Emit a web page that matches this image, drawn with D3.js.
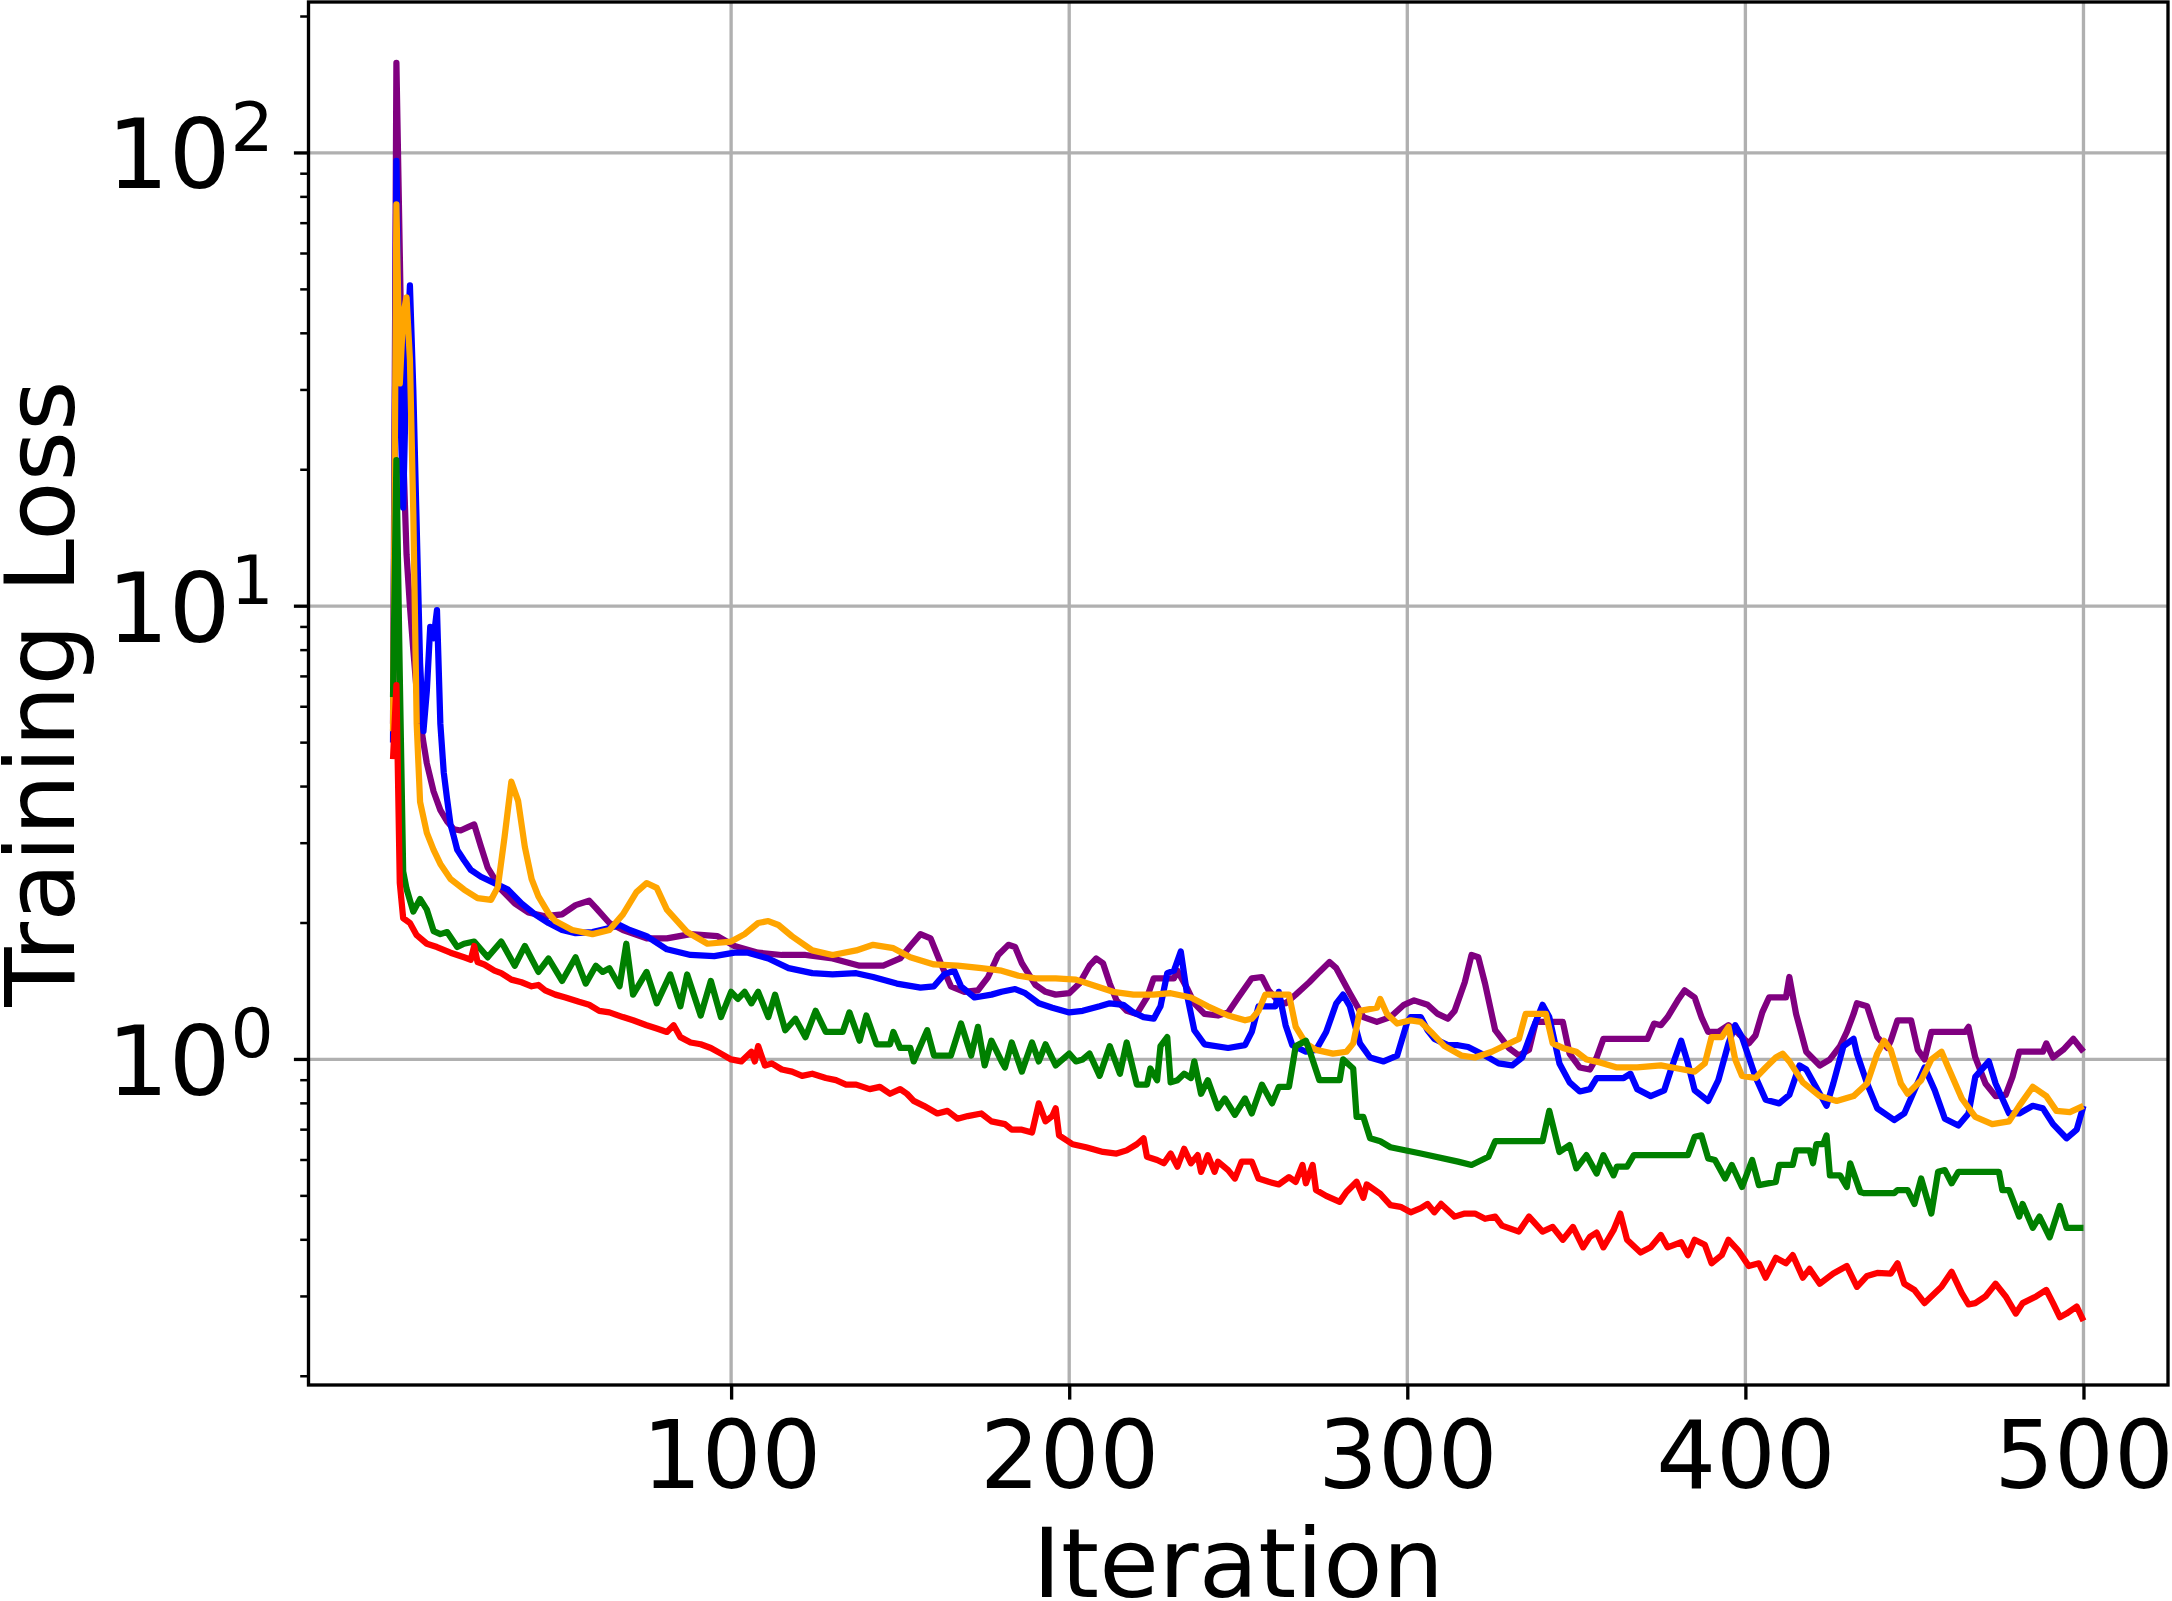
<!DOCTYPE html>
<html>
<head>
<meta charset="utf-8">
<script src="https://cdn.jsdelivr.net/npm/d3@7"></script>
<style>
  body { margin: 0; background: #fff; }
  text { font-family: "DejaVu Sans", sans-serif; fill: #000; }
</style>
</head>
<body>
<script>
// x ticks (iterations) and y ticks (log10 exponents)
var iterTicks = [100, 200, 300, 400, 500];
var yMajor = [1, 10, 100];
var yExponents = ["0", "1", "2"];
var yMinor = [0.2, 0.3, 0.4, 0.5, 0.6, 0.7, 0.8, 0.9,
              2, 3, 4, 5, 6, 7, 8, 9,
              20, 30, 40, 50, 60, 70, 80, 90, 200];

// series, [iteration, loss]
var purple = [[0,5.5],[1,158],[2,60],[3,22],[4,13],[5,10],[6,8],[7,6.5],[8,5.6],[9,5.0],[10,4.5],[12,3.9],[14,3.55],[16,3.35],[18,3.22],[20,3.2],[22,3.25],[24,3.3],[26,2.95],[28,2.65],[32,2.37],[36,2.21],[40,2.11],[45,2.07],[50,2.09],[54,2.19],[58,2.24],[60,2.16],[64,2.0],[68,1.93],[75,1.85],[81,1.85],[88,1.89],[96,1.87],[101,1.78],[108,1.72],[115,1.7],[122,1.7],[130,1.67],[138,1.61],[145,1.61],[150,1.67],[153,1.78],[156,1.89],[159,1.85],[162,1.63],[165,1.45],[169,1.41],[173,1.42],[176,1.52],[179,1.7],[182,1.79],[184,1.77],[186,1.63],[190,1.46],[193,1.41],[196,1.39],[200,1.4],[203,1.47],[206,1.61],[208,1.67],[210,1.63],[212,1.47],[214,1.35],[217,1.28],[220,1.26],[223,1.37],[225,1.51],[231,1.51],[232,1.57],[235,1.43],[237,1.33],[240,1.26],[244,1.25],[247,1.27],[250,1.37],[254,1.51],[257,1.52],[259,1.42],[262,1.34],[264,1.33],[267,1.39],[271,1.48],[274,1.56],[277,1.64],[279,1.59],[283,1.4],[287,1.24],[291,1.21],[295,1.24],[299,1.32],[302,1.35],[306,1.32],[309,1.26],[312,1.23],[314,1.28],[317,1.48],[319,1.7],[321,1.68],[323,1.47],[326,1.16],[330,1.06],[333,1.02],[336,1.05],[338,1.21],[346,1.21],[348,1.03],[351,0.96],[354,0.95],[356,1.01],[358,1.11],[371,1.11],[373,1.2],[375,1.19],[377,1.24],[380,1.35],[382,1.42],[385,1.37],[387,1.24],[389,1.15],[392,1.15],[395,1.19],[398,1.14],[401,1.085],[403,1.13],[405,1.27],[407,1.37],[412,1.37],[413,1.52],[415,1.26],[418,1.04],[422,0.97],[425,1.0],[428,1.07],[430,1.15],[432,1.26],[433,1.33],[436,1.31],[439,1.12],[442,1.06],[443,1.1],[445,1.22],[449,1.22],[451,1.05],[453,1.0],[455,1.15],[465,1.15],[466,1.18],[468,1.01],[471,0.885],[474,0.83],[477,0.835],[479,0.915],[481,1.04],[488,1.04],[489,1.085],[491,1.01],[494,1.05],[497,1.11],[500,1.04]];

var blue = [[0,5],[1,96],[2,30],[3,16.5],[4,35],[5,51],[6,30],[7,15],[8,7.5],[9,5.3],[10,6.5],[11,9.0],[12,8.5],[13,9.8],[14,5.5],[15,4.3],[16,3.75],[17,3.3],[18,3.1],[19,2.9],[21,2.75],[23,2.62],[26,2.53],[30,2.45],[34,2.37],[38,2.21],[42,2.09],[46,2.0],[50,1.93],[54,1.9],[59,1.91],[64,1.95],[67,1.98],[70,1.93],[75,1.87],[81,1.75],[88,1.7],[95,1.69],[101,1.72],[105,1.72],[111,1.67],[117,1.59],[124,1.55],[130,1.54],[137,1.55],[142,1.52],[149,1.47],[156,1.44],[160,1.45],[163,1.54],[166,1.57],[168,1.45],[172,1.37],[177,1.39],[180,1.41],[184,1.43],[187,1.4],[191,1.33],[195,1.3],[200,1.27],[204,1.28],[209,1.31],[212,1.33],[216,1.32],[219,1.27],[222,1.24],[225,1.23],[227,1.31],[229,1.55],[231,1.57],[233,1.73],[235,1.37],[237,1.16],[240,1.08],[247,1.06],[252,1.075],[254,1.15],[256,1.31],[261,1.31],[262,1.41],[264,1.19],[266,1.075],[270,1.04],[273,1.05],[276,1.15],[279,1.33],[281,1.39],[283,1.31],[286,1.085],[289,1.01],[293,0.99],[297,1.02],[300,1.21],[301,1.24],[304,1.24],[306,1.16],[308,1.11],[312,1.075],[315,1.075],[318,1.065],[323,1.02],[327,0.98],[331,0.97],[334,1.01],[337,1.16],[340,1.32],[342,1.24],[345,0.98],[348,0.89],[351,0.85],[354,0.86],[356,0.91],[364,0.91],[366,0.93],[368,0.86],[372,0.83],[376,0.855],[378,0.95],[381,1.1],[383,0.98],[385,0.855],[389,0.81],[392,0.9],[395,1.085],[397,1.19],[399,1.12],[403,0.915],[406,0.815],[410,0.8],[413,0.835],[416,0.97],[418,0.95],[422,0.84],[424,0.79],[426,0.885],[429,1.07],[432,1.11],[433,1.03],[436,0.885],[439,0.78],[444,0.735],[447,0.76],[450,0.855],[453,0.96],[456,0.855],[459,0.74],[463,0.715],[466,0.76],[468,0.915],[472,0.99],[474,0.885],[478,0.76],[481,0.76],[485,0.79],[488,0.78],[491,0.72],[495,0.67],[498,0.7],[500,0.79]];

var orange = [[0,5.3],[1,77],[2,31],[3,44],[4,48],[5,35],[6,16],[7,5.5],[8,3.7],[10,3.16],[12,2.9],[14,2.7],[17,2.5],[21,2.37],[25,2.27],[29,2.25],[31,2.4],[33,3.1],[35,4.1],[37,3.72],[39,2.94],[41,2.5],[43,2.29],[46,2.1],[48,2.02],[53,1.93],[59,1.89],[64,1.93],[68,2.09],[72,2.34],[75,2.45],[78,2.39],[81,2.14],[87,1.91],[93,1.8],[100,1.82],[104,1.89],[108,2.0],[111,2.02],[114,1.98],[118,1.87],[124,1.74],[130,1.7],[137,1.74],[142,1.79],[148,1.76],[153,1.68],[160,1.62],[167,1.61],[174,1.59],[180,1.57],[185,1.53],[190,1.51],[196,1.51],[202,1.5],[208,1.45],[213,1.41],[219,1.39],[225,1.39],[230,1.4],[236,1.37],[241,1.31],[247,1.25],[252,1.22],[254,1.23],[256,1.28],[258,1.39],[265,1.39],[267,1.18],[270,1.085],[273,1.05],[278,1.03],[282,1.04],[284,1.085],[286,1.28],[291,1.3],[292,1.36],[294,1.26],[297,1.2],[301,1.22],[304,1.21],[307,1.15],[311,1.07],[316,1.02],[320,1.01],[325,1.04],[329,1.075],[333,1.11],[335,1.26],[341,1.26],[343,1.085],[346,1.06],[350,1.04],[353,1.0],[357,0.985],[362,0.96],[368,0.96],[375,0.97],[380,0.955],[385,0.94],[388,0.98],[390,1.12],[393,1.12],[395,1.18],[397,1.0],[399,0.92],[403,0.91],[406,0.96],[409,1.01],[411,1.03],[413,0.99],[417,0.89],[422,0.83],[427,0.81],[432,0.83],[436,0.885],[439,1.03],[441,1.1],[443,1.05],[446,0.885],[448,0.84],[452,0.9],[455,1.0],[458,1.04],[460,0.96],[464,0.82],[468,0.747],[473,0.72],[478,0.73],[481,0.79],[485,0.87],[489,0.83],[492,0.77],[496,0.765],[500,0.79]];

var green = [[0,6.3],[1,21],[2,7],[3,2.6],[4,2.38],[6,2.12],[8,2.26],[10,2.14],[12,1.92],[14,1.89],[16,1.91],[19,1.77],[21,1.8],[24,1.82],[28,1.68],[32,1.82],[36,1.61],[39,1.78],[43,1.56],[46,1.67],[50,1.49],[54,1.68],[57,1.47],[60,1.61],[62,1.56],[64,1.59],[67,1.45],[69,1.8],[71,1.39],[75,1.56],[78,1.33],[82,1.54],[85,1.31],[87,1.54],[91,1.25],[94,1.49],[97,1.24],[100,1.41],[102,1.36],[104,1.41],[106,1.33],[108,1.41],[111,1.24],[113,1.39],[116,1.16],[119,1.23],[122,1.12],[125,1.28],[128,1.15],[133,1.15],[135,1.27],[138,1.1],[140,1.25],[143,1.08],[147,1.08],[148,1.15],[150,1.06],[153,1.06],[154,0.99],[158,1.16],[160,1.02],[165,1.02],[168,1.2],[171,1.02],[173,1.18],[175,0.97],[177,1.1],[180,0.99],[181,0.96],[183,1.09],[186,0.94],[189,1.09],[191,0.99],[193,1.08],[196,0.97],[200,1.03],[202,0.99],[204,1.0],[206,1.03],[209,0.92],[212,1.07],[215,0.93],[217,1.09],[220,0.88],[223,0.88],[224,0.955],[226,0.9],[227,1.07],[229,1.12],[230,0.89],[232,0.9],[234,0.93],[236,0.91],[237,0.99],[239,0.84],[241,0.9],[244,0.78],[246,0.82],[249,0.755],[252,0.82],[254,0.76],[257,0.88],[260,0.8],[262,0.87],[265,0.87],[267,1.07],[270,1.1],[271,1.05],[274,0.9],[280,0.9],[281,1.0],[284,0.955],[285,0.747],[287,0.747],[289,0.67],[292,0.66],[295,0.64],[304,0.62],[315,0.595],[319,0.585],[324,0.61],[326,0.66],[340,0.66],[342,0.77],[345,0.625],[348,0.647],[350,0.575],[353,0.615],[356,0.56],[358,0.615],[361,0.555],[362,0.58],[365,0.58],[367,0.615],[383,0.615],[385,0.675],[387,0.68],[389,0.605],[391,0.6],[394,0.546],[396,0.585],[399,0.523],[402,0.6],[404,0.528],[409,0.537],[410,0.585],[414,0.585],[415,0.63],[419,0.63],[420,0.59],[421,0.65],[423,0.65],[424,0.68],[425,0.555],[428,0.555],[430,0.523],[431,0.59],[434,0.51],[435,0.507],[444,0.507],[445,0.515],[448,0.515],[450,0.48],[452,0.546],[455,0.457],[457,0.565],[459,0.57],[461,0.533],[463,0.565],[475,0.565],[476,0.515],[478,0.515],[481,0.45],[482,0.48],[485,0.425],[487,0.45],[490,0.405],[493,0.475],[495,0.425],[500,0.425]];

var red = [[0,4.6],[1,6.7],[2,2.45],[3,2.05],[5,2.0],[7,1.88],[10,1.8],[13,1.77],[17,1.72],[21,1.68],[23,1.66],[24,1.78],[25,1.64],[27,1.62],[30,1.57],[32,1.55],[35,1.5],[38,1.48],[41,1.45],[43,1.46],[45,1.42],[48,1.39],[51,1.37],[55,1.34],[58,1.32],[61,1.28],[64,1.27],[68,1.24],[71,1.22],[75,1.19],[78,1.17],[81,1.15],[83,1.19],[85,1.12],[88,1.09],[91,1.08],[94,1.06],[97,1.03],[100,1.0],[103,0.99],[106,1.04],[107,0.99],[108,1.07],[110,0.97],[112,0.98],[115,0.95],[118,0.94],[121,0.92],[124,0.93],[128,0.91],[131,0.9],[134,0.88],[137,0.88],[141,0.86],[144,0.87],[147,0.84],[150,0.86],[152,0.84],[154,0.81],[157,0.79],[161,0.76],[164,0.77],[167,0.74],[170,0.75],[174,0.76],[177,0.73],[181,0.72],[183,0.7],[186,0.7],[189,0.69],[191,0.8],[193,0.73],[195,0.75],[196,0.78],[197,0.68],[201,0.65],[205,0.64],[210,0.625],[214,0.62],[217,0.63],[220,0.65],[222,0.67],[223,0.61],[226,0.6],[228,0.59],[230,0.62],[232,0.58],[234,0.635],[236,0.59],[238,0.615],[239,0.565],[241,0.615],[243,0.565],[244,0.595],[247,0.57],[249,0.546],[251,0.595],[254,0.595],[256,0.546],[259,0.537],[262,0.53],[265,0.55],[267,0.537],[269,0.585],[270,0.533],[272,0.585],[273,0.515],[276,0.5],[280,0.485],[282,0.51],[285,0.537],[287,0.495],[288,0.53],[292,0.505],[295,0.477],[298,0.473],[301,0.46],[304,0.47],[306,0.48],[308,0.46],[310,0.48],[314,0.45],[317,0.457],[320,0.457],[323,0.445],[326,0.45],[328,0.43],[333,0.417],[336,0.45],[340,0.417],[343,0.427],[346,0.4],[349,0.427],[352,0.385],[354,0.406],[356,0.415],[358,0.385],[361,0.42],[363,0.457],[365,0.4],[369,0.375],[372,0.385],[375,0.41],[377,0.385],[381,0.395],[383,0.37],[385,0.4],[388,0.39],[390,0.355],[393,0.37],[395,0.4],[398,0.378],[401,0.35],[404,0.355],[406,0.33],[409,0.365],[412,0.355],[414,0.37],[417,0.33],[419,0.345],[422,0.32],[426,0.337],[430,0.35],[433,0.315],[436,0.333],[439,0.338],[443,0.337],[445,0.355],[447,0.32],[450,0.31],[453,0.29],[456,0.305],[458,0.315],[461,0.34],[464,0.305],[466,0.288],[468,0.29],[471,0.3],[474,0.32],[477,0.3],[480,0.275],[482,0.29],[486,0.3],[489,0.31],[491,0.29],[493,0.27],[495,0.275],[498,0.285],[500,0.265]];

// drawing order as in the picture
var seriesList = [
  { name: "purple", color: "#800080", values: purple },
  { name: "blue",   color: "#0000ff", values: blue },
  { name: "orange", color: "#ffa500", values: orange },
  { name: "green",  color: "#008000", values: green },
  { name: "red",    color: "#ff0000", values: red }
];

var width = 2172;
var height = 1601;
var plotLeft = 308.5, plotRight = 2168, plotTop = 2, plotBottom = 1385;
var tickFont = 94;   // x tick labels
var mathFont = 97;   // 10^n labels
var labelFont = 97;  // axis titles

var svg = d3.select("body").append("svg")
    .attr("width", width)
    .attr("height", height)
    .style("display", "block");

var x = d3.scaleLinear().domain([-25, 525]).range([plotLeft, plotRight]);
var y = d3.scaleLog().domain([0.1913, 215.3]).range([plotBottom, plotTop]);

svg.append("defs").append("clipPath").attr("id", "plot")
  .append("rect")
    .attr("x", plotLeft).attr("y", plotTop)
    .attr("width", plotRight - plotLeft).attr("height", plotBottom - plotTop);

// grid
var grid = svg.append("g").attr("stroke", "#b0b0b0").attr("stroke-width", 3.33);
grid.selectAll(".gx").data(iterTicks).enter().append("line")
    .attr("x1", d => x(d)).attr("x2", d => x(d))
    .attr("y1", plotTop).attr("y2", plotBottom);
grid.selectAll(".gy").data(yMajor).enter().append("line")
    .attr("x1", plotLeft).attr("x2", plotRight)
    .attr("y1", d => y(d)).attr("y2", d => y(d));

// lines
var line = d3.line()
    .x(d => x(d[0]))
    .y(d => y(d[1]));

svg.append("g").attr("clip-path", "url(#plot)")
  .selectAll("path")
  .data(seriesList)
  .enter()
  .append("path")
    .attr("d", d => line(d.values))
    .attr("fill", "none")
    .attr("stroke", d => d.color)
    .attr("stroke-width", 6.25)
    .attr("stroke-linejoin", "round");

// x axis
var xAxis = d3.axisBottom(x)
    .tickValues(iterTicks)
    .tickFormat(d3.format("d"))
    .tickSize(14.6)
    .tickPadding(22);

var gx = svg.append("g")
    .attr("transform", "translate(0," + plotBottom + ")")
    .call(xAxis);
gx.select(".domain").remove();
gx.selectAll("line").attr("stroke", "#000").attr("stroke-width", 3.33);
gx.selectAll("text")
    .style("font-family", "'DejaVu Sans', sans-serif")
    .style("font-size", tickFont + "px")
    .attr("fill", "#000");

// y axis ticks
var gy = svg.append("g");
gy.selectAll(".major").data(yMajor).enter().append("line")
    .attr("x1", plotLeft - 14.6).attr("x2", plotLeft)
    .attr("y1", d => y(d)).attr("y2", d => y(d))
    .attr("stroke", "#000").attr("stroke-width", 3.33);
gy.selectAll(".minor").data(yMinor).enter().append("line")
    .attr("x1", plotLeft - 8.3).attr("x2", plotLeft)
    .attr("y1", d => y(d)).attr("y2", d => y(d))
    .attr("stroke", "#000").attr("stroke-width", 2.5);

var ylab = gy.selectAll(".ylab").data(yMajor).enter().append("text")
    .attr("x", 107)
    .attr("y", d => y(d) + 35.5)
    .attr("text-anchor", "start")
    .style("font-size", mathFont + "px");
ylab.append("tspan").text("10");
ylab.append("tspan")
    .attr("dy", -37.5)
    .style("font-size", (mathFont * 0.7) + "px")
    .text((d, i) => yExponents[i]);

// frame
svg.append("rect")
    .attr("x", plotLeft).attr("y", plotTop)
    .attr("width", plotRight - plotLeft).attr("height", plotBottom - plotTop)
    .attr("fill", "none")
    .attr("stroke", "#000")
    .attr("stroke-width", 3.33);

// axis titles
svg.append("text")
    .attr("x", (plotLeft + plotRight) / 2)
    .attr("y", 1597)
    .attr("text-anchor", "middle")
    .style("font-size", labelFont + "px")
    .text("Iteration");

svg.append("text")
    .attr("transform", "translate(74," + ((plotTop + plotBottom) / 2) + ") rotate(-90)")
    .attr("text-anchor", "middle")
    .style("font-size", labelFont + "px")
    .text("Training Loss");
</script>
</body>
</html>
